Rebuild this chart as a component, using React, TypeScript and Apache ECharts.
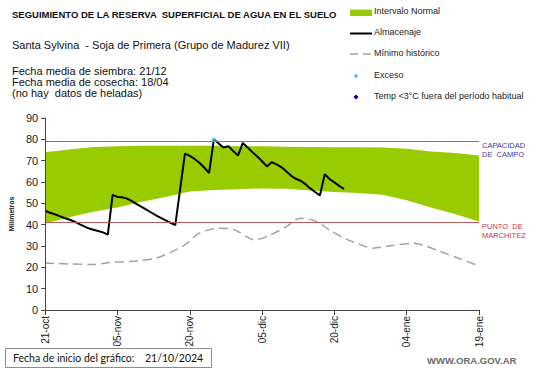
import React, { useEffect, useRef } from "react";
import * as echarts from "echarts";

// x ticks every 15 days from 21-oct (day 0) to 19-ene (day 90)
const tickLabels = ["21-oct", "05-nov", "20-nov", "05-dic", "20-dic", "04-ene", "19-ene"];

// Almacenaje (daily, from day 0)
const storageValues = [
  46.5, 45.6, 44.9, 44.0, 43.1, 42.4, 41.5, 40.4, 39.3, 38.3, 37.6, 37.0, 36.4, 35.3,
  54.0, 53.0, 52.8, 52.2, 51.0, 49.6, 48.3, 47.0, 45.7, 44.4, 43.2, 42.0, 40.9, 39.8,
  56.5, 73.3, 72.2, 70.8, 69.0, 66.8, 64.2, 80.0, 78.0, 76.2, 76.8, 74.5, 72.4, 78.3,
  76.2, 74.0, 72.0, 69.7, 67.3, 69.3, 68.3, 67.0, 65.0, 63.0, 61.5, 60.6, 59.0, 57.0,
  55.3, 53.7, 63.7, 61.4, 59.8, 58.2, 56.7,
];

// Intervalo normal
const bandDays = [0, 5, 10, 15, 20, 25, 30, 35, 40, 45, 50, 55, 60, 65, 70, 75, 80, 85, 90];
const bandLower = [40.5, 43.5, 46, 48, 50.8, 53, 55.5, 56.3, 56.6, 57, 56.8, 56, 55.3, 54.8, 54, 51.5, 48, 45, 41.5];
const bandUpper = [74, 75.2, 76.4, 76.8, 77, 77, 77, 77, 76.8, 76.7, 76.5, 76.4, 76.3, 76.3, 76.2, 75.6, 74.3, 73.6, 72.4];

// Mínimo histórico
const minDays = [0, 5, 10, 14, 19, 23, 26, 29, 32, 36, 39, 43.5, 47, 50, 53, 56, 59, 62, 65, 68, 72, 76.5, 79, 82, 86, 90];
const minVals = [22, 21.6, 21.3, 22.4, 23, 24.3, 27, 30.5, 36, 38.3, 37.8, 32.9, 35.5, 39, 43, 41.8, 37.5, 33.7, 31, 29, 30.2, 31.3, 30, 27.4, 24, 20.7];

// Exceso
const excesoDays = [35];
const excesoVals = [79.8];

const capacidadCampo = 79.3;
const puntoMarchitez = 41.3;

const FONT = "'Liberation Sans', Arial, sans-serif";

export default function App() {
  const ref = useRef<HTMLDivElement>(null);

  useEffect(() => {
    const chart = echarts.init(ref.current!, null, { renderer: "svg" });
    const textCol = "#222";
    chart.setOption({
      animation: false,
      backgroundColor: "#fff",
      textStyle: { fontFamily: FONT },
      grid: { left: 33, right: 62, top: 118, bottom: 58 },
      xAxis: {
        type: "value",
        min: 0,
        max: 90,
        interval: 15,
        z: 10,
        axisLine: { lineStyle: { color: "#444", width: 1 } },
        axisTick: { show: true, length: 5, lineStyle: { color: "#444" } },
        splitLine: { show: false },
        axisLabel: {
          rotate: 90,
          margin: 6,
          color: textCol,
          fontSize: 10,
          fontFamily: FONT,
          formatter: (v: number) => tickLabels[Math.round(v / 15)] ?? "",
        },
      },
      yAxis: {
        type: "value",
        min: 0,
        max: 90,
        interval: 10,
        z: 10,
        name: "Milímetros",
        nameLocation: "middle",
        nameGap: 27,
        nameTextStyle: { fontSize: 7, fontWeight: "bold", color: textCol, fontFamily: FONT },
        axisLine: { show: true, lineStyle: { color: "#444", width: 1 } },
        axisTick: { show: true, length: 4, lineStyle: { color: "#444" } },
        splitLine: { show: false },
        axisLabel: { color: textCol, fontSize: 11, margin: 7, fontFamily: FONT },
      },
      series: [
        {
          // upper edge of normal interval, filled down to the axis
          type: "line",
          data: bandDays.map((d, i) => [d, bandUpper[i]]),
          symbol: "none",
          lineStyle: { width: 0, opacity: 0 },
          areaStyle: { color: "#99cc00", opacity: 1 },
          silent: true,
          z: 1,
        },
        {
          // lower edge of normal interval, blanking below it
          type: "line",
          data: bandDays.map((d, i) => [d, bandLower[i]]),
          symbol: "none",
          lineStyle: { width: 0, opacity: 0 },
          areaStyle: { color: "#ffffff", opacity: 1 },
          silent: true,
          z: 1.5,
        },
        {
          type: "line",
          data: minDays.map((d, i) => [d, minVals[i]]),
          symbol: "none",
          smooth: 0.3,
          lineStyle: { color: "#a3a3a3", width: 1.5, type: [9, 5] },
          z: 3,
          markLine: {
            silent: true,
            symbol: "none",
            label: { show: false },
            data: [
              { yAxis: capacidadCampo, lineStyle: { color: "#5b7cc4", width: 1, type: "solid" } },
              { yAxis: puntoMarchitez, lineStyle: { color: "#b85a5a", width: 1, type: "solid" } },
            ],
          },
        },
        {
          type: "line",
          data: storageValues.map((v, i) => [i, v]),
          symbol: "none",
          lineStyle: { color: "#000", width: 2 },
          z: 4,
        },
        {
          type: "scatter",
          data: excesoDays.map((d, i) => [d, excesoVals[i]]),
          symbol: "circle",
          symbolSize: 4,
          itemStyle: { color: "#33ccdd" },
          z: 5,
        },
      ],
    });

    const yCap = chart.convertToPixel({ yAxisIndex: 0 }, capacidadCampo) as number;
    const yPm = chart.convertToPixel({ yAxisIndex: 0 }, puntoMarchitez) as number;
    const xEnd = chart.convertToPixel({ xAxisIndex: 0 }, 90) as number;

    const legendX = 374;
    const legendText = (t: string, y: number) => ({
      type: "text",
      left: legendX,
      top: y - 6,
      style: { text: t, fontSize: 9, fill: "#222", fontFamily: FONT },
    });

    chart.setOption({
      graphic: [
        {
          type: "text",
          left: 12,
          top: 9,
          style: {
            text: "SEGUIMIENTO DE LA RESERVA  SUPERFICIAL DE AGUA EN EL SUELO",
            fontSize: 9.5,
            fontWeight: "bold",
            fill: "#111",
            fontFamily: FONT,
          },
        },
        {
          type: "text",
          left: 12,
          top: 39,
          style: {
            text: "Santa Sylvina  - Soja de Primera (Grupo de Madurez VII)",
            fontSize: 11,
            fill: "#111",
            fontFamily: FONT,
          },
        },
        {
          type: "text",
          left: 12,
          top: 65,
          style: {
            text: "Fecha media de siembra: 21/12\nFecha media de cosecha: 18/04\n(no hay  datos de heladas)",
            fontSize: 11,
            lineHeight: 11.3,
            fill: "#111",
            fontFamily: FONT,
          },
        },
        // legend
        { type: "rect", shape: { x: 350, y: 9.5, width: 22, height: 6.5 }, style: { fill: "#99cc00" } },
        legendText("Intervalo Normal", 12.7),
        { type: "line", shape: { x1: 350, y1: 33.5, x2: 372, y2: 33.5 }, style: { stroke: "#000", lineWidth: 2 } },
        legendText("Almacenaje", 33.5),
        {
          type: "line",
          shape: { x1: 350, y1: 54, x2: 372, y2: 54 },
          style: { stroke: "#a3a3a3", lineWidth: 1.5, lineDash: [8, 5] },
        },
        legendText("Mínimo histórico", 54),
        { type: "circle", shape: { cx: 356, cy: 76, r: 1.8 }, style: { fill: "#33ccdd" } },
        legendText("Exceso", 76),
        {
          type: "polygon",
          shape: { points: [[356, 94.5], [358.5, 97], [356, 99.5], [353.5, 97]] },
          style: { fill: "#000099" },
        },
        legendText("Temp <3°C fuera del período habitual", 97),
        // reference line labels
        {
          type: "text",
          left: xEnd + 3,
          top: yCap,
          style: {
            text: "CAPACIDAD\nDE  CAMPO",
            fontSize: 7.5,
            lineHeight: 9,
            fill: "#3a3aa8",
            fontFamily: FONT,
          },
        },
        {
          type: "text",
          left: xEnd + 3,
          top: yPm,
          style: {
            text: "PUNTO  DE\nMARCHITEZ",
            fontSize: 7.5,
            lineHeight: 9,
            fill: "#cc3344",
            fontFamily: FONT,
          },
        },
        // bottom box
        {
          type: "rect",
          shape: { x: 5.5, y: 348.5, width: 206, height: 19 },
          style: { fill: "#fff", stroke: "#8c8c8c", lineWidth: 1 },
        },
        {
          type: "text",
          left: 13,
          top: 352,
          style: { text: "Fecha de inicio del gráfico:", fontSize: 10.5, fill: "#111", fontFamily: "Lato, sans-serif" },
        },
        {
          type: "text",
          left: 145,
          top: 352,
          style: { text: "21/10/2024", fontSize: 10.5, fill: "#111", fontFamily: "Lato, sans-serif" },
        },
        {
          type: "text",
          left: 427,
          top: 355,
          style: {
            text: "WWW.ORA.GOV.AR",
            fontSize: 9.5,
            fontWeight: "bold",
            fill: "#6a6a6a",
            fontFamily: FONT,
          },
        },
      ],
    });

    return () => chart.dispose();
  }, []);

  return (
    <div
      ref={ref}
      style={{ position: "fixed", left: 0, top: 0, width: 541, height: 368, background: "#fff" }}
    />
  );
}
